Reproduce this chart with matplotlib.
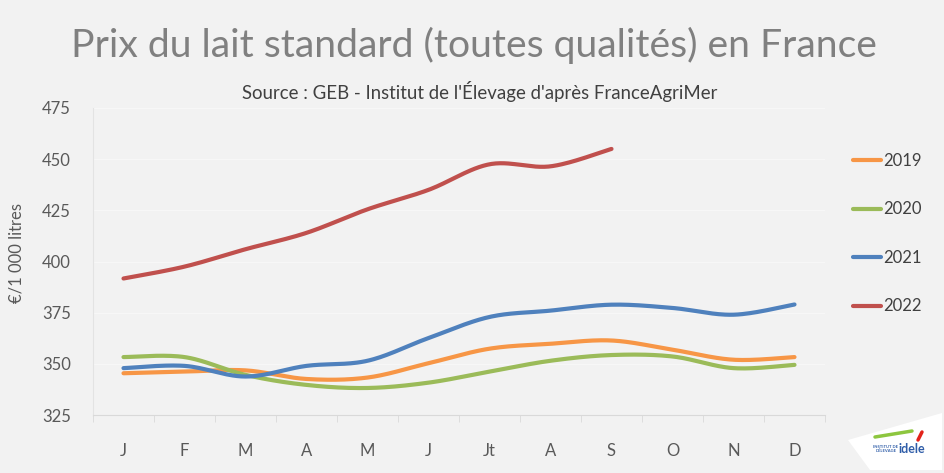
import numpy as np
import matplotlib
matplotlib.use("Agg")
import matplotlib.pyplot as plt
from matplotlib.lines import Line2D
from matplotlib.patches import Polygon

months = ["J", "F", "M", "A", "M", "J", "Jt", "A", "S", "O", "N", "D"]
years = ["2019", "2020", "2021", "2022"]
v2019 = [345.4, 346.2, 346.8, 342.6, 343.3, 350.3, 357.4, 359.8, 361.4, 356.9, 352.0, 353.3]
v2020 = [353.3, 353.3, 344.6, 339.7, 338.2, 340.8, 346.2, 351.5, 354.3, 353.6, 347.9, 349.5]
v2021 = [347.9, 349.0, 343.8, 349.0, 351.5, 362.6, 372.9, 376.0, 378.9, 377.3, 374.0, 379.0]
v2022 = [391.7, 397.5, 406.0, 414.0, 425.5, 435.0, 447.5, 446.5, 455.0]
colors = ["#F79646", "#9BBB59", "#4F81BD", "#C0504D"]
series = [v2019, v2020, v2021, v2022]

def smooth(y, n=30):
    """Excel-like smoothed line (Catmull-Rom Bezier through the points)."""
    x = np.arange(len(y)) + 0.5
    y = np.asarray(y, float)
    P = np.column_stack([x, y])
    out = []
    for i in range(len(P) - 1):
        p0 = P[i - 1] if i > 0 else P[i]
        p1, p2 = P[i], P[i + 1]
        p3 = P[i + 2] if i + 2 < len(P) else P[i + 1]
        c1 = p1 + (p2 - p0) / 6.0
        c2 = p2 - (p3 - p1) / 6.0
        t = np.linspace(0, 1, n)[:, None]
        seg = ((1 - t) ** 3) * p1 + 3 * ((1 - t) ** 2) * t * c1 + 3 * (1 - t) * t ** 2 * c2 + t ** 3 * p2
        out.append(seg if i == 0 else seg[1:])
    s = np.vstack(out)
    return s[:, 0], s[:, 1]

font = "Lato"
bg = "#F2F2F2"
fig = plt.figure(figsize=(9.45, 4.73), dpi=100, facecolor=bg)
W, H = 945, 473
ax = fig.add_axes([93 / W, (H - 415) / H, (825 - 93) / W, (415 - 108) / H], facecolor=bg)

for vals, c in zip(series, colors):
    xs, ys = smooth(vals)
    ax.plot(xs, ys, color=c, lw=3.0, solid_capstyle="round", zorder=3)

ax.set_xlim(0, 12)
ax.set_ylim(325, 475)
ax.set_yticks(np.arange(325, 476, 25))
ax.set_xticks(np.arange(12) + 0.5)
ax.set_xticklabels(months)
ax.set_xticks(np.arange(13), minor=True)
ax.grid(axis="y", color="#F7F7F7", lw=1.0, zorder=0)
for s in ["top", "right"]:
    ax.spines[s].set_visible(False)
ax.spines["left"].set_color("#E3E3E3")
ax.spines["bottom"].set_color("#D9D9D9")
ax.tick_params(axis="y", length=0, pad=16, labelsize=12, labelcolor="#595959")
ax.tick_params(axis="x", which="major", length=0, pad=20, labelsize=12, labelcolor="#595959")
ax.tick_params(axis="x", which="minor", length=5, color="#D9D9D9")
for lab in ax.get_xticklabels() + ax.get_yticklabels():
    lab.set_fontfamily(font)
ax.set_ylabel("€/1 000 litres", fontsize=12, color="#595959", family=font)
ax.yaxis.set_label_coords((17 - 93) / 732, (415 - 253) / 307)
ax.yaxis.label.set_va("center")

fig.text(474 / W, 1 - 45 / H, "Prix du lait standard (toutes qualités) en France",
         ha="center", va="center", fontsize=28.2, color="#808080", family=font)
fig.text(480 / W, 1 - 92 / H, "Source : GEB - Institut de l'Élevage d'après FranceAgriMer",
         ha="center", va="center", fontsize=13.4, color="#404040", family=font)

handles = [Line2D([0], [0], color=c, lw=3, solid_capstyle="round") for c in colors]
leg = fig.legend(handles, years, loc="upper left", bbox_to_anchor=(838 / W, 1 - 138 / H),
                 frameon=False, handlelength=1.7, handletextpad=0.1, labelspacing=1.95,
                 prop={"family": font, "size": 12})
for t in leg.get_texts():
    t.set_color("#404040")

# logo badge
badge = Polygon([[848 / W, 1 - 440 / H], [942 / W, 1 - 413 / H], [942 / W, 1 - 470 / H], [870 / W, 1 - 470 / H]],
                closed=True, transform=fig.transFigure, facecolor="white", edgecolor="none")
fig.patches.append(badge)
fig.text(912 / W, 1 - 449 / H, "idele", ha="center", va="center", fontsize=9,
         fontweight="bold", color="#2F5DA8", family=font)
fig.text(886 / W, 1 - 449 / H, "INSTITUT DE\nL'ÉLEVAGE", ha="center", va="center", fontsize=3,
         fontweight="bold", color="#2F5DA8", family=font, linespacing=0.9)
fig.add_artist(Line2D([875 / W, 912 / W], [1 - 437 / H, 1 - 431 / H], transform=fig.transFigure,
                      color="#8DC63F", lw=2.5, solid_capstyle="round"))
fig.add_artist(Line2D([918 / W, 922 / W], [1 - 440 / H, 1 - 432 / H], transform=fig.transFigure,
                      color="#E2231A", lw=2.5, solid_capstyle="round"))

fig.savefig("out.png", dpi=100, facecolor=bg)
